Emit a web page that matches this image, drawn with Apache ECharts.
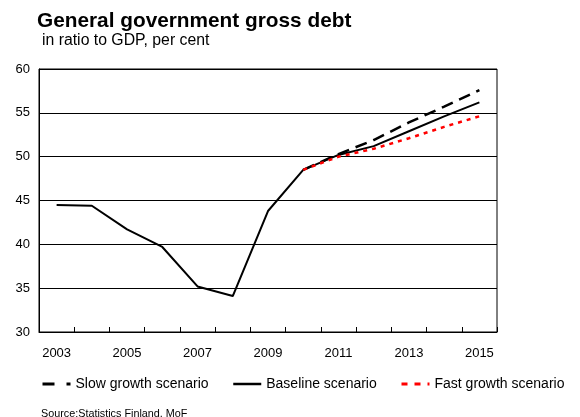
<!DOCTYPE html>
<html><head><meta charset="utf-8">
<script src="https://cdn.jsdelivr.net/npm/echarts@6/dist/echarts.min.js"></script>
<style>html,body{margin:0;padding:0;background:#fff}#c{width:580px;height:417px}</style>
</head><body><div id="c"></div>
<script>
const years = ['2003','2004','2005','2006','2007','2008','2009','2010','2011','2012','2013','2014','2015'];
const baseline = [44.5, 44.4, 41.7, 39.7, 35.2, 34.1, 43.8, 48.5, 50.2, 51.2, 52.9, 54.6, 56.2];
const slowGrowth = [null, null, null, null, null, null, null, 48.5, 50.3, 51.9, 53.9, 55.7, 57.6];
const fastGrowth = [null, null, null, null, null, null, null, 48.5, 50.0, 50.9, 52.1, 53.4, 54.6];
const yTicks = [30, 35, 40, 45, 50, 55, 60];
const seriesNames = ['Slow growth scenario', 'Baseline scenario', 'Fast growth scenario'];

const font = 'Liberation Sans, Arial, sans-serif';
const legendText = {fontFamily: font, fontSize: 14, color: '#000'};
function legendAt(left, item) {
  return {left: left, top: 377, padding: 0, itemWidth: 28, itemHeight: 14,
          itemStyle: {opacity: 0}, textStyle: legendText, data: [item]};
}
const chart = echarts.init(document.getElementById('c'));
chart.setOption({
  animation: false,
  backgroundColor: '#fff',
  title: [
    {text: 'General government gross debt', left: 32, top: 6,
     textStyle: {fontFamily: font, fontSize: 20.8, fontWeight: 'bold', color: '#000'}},
    {text: 'in ratio to GDP, per cent', left: 37, top: 28,
     textStyle: {fontFamily: font, fontSize: 15.8, fontWeight: 'normal', color: '#000'}},
    {text: 'Source:Statistics Finland, MoF', left: 36, top: 404,
     textStyle: {fontFamily: font, fontSize: 10.8, fontWeight: 'normal', color: '#000'}}
  ],
  legend: [
    legendAt(41, {name: seriesNames[0], lineStyle: {type: [12, 12], width: 3}}),
    legendAt(232, {name: seriesNames[1], lineStyle: {width: 2.5}}),
    legendAt(400, {name: seriesNames[2], lineStyle: {type: [6, 7], width: 3}})
  ],
  grid: {left: 39, right: 83, top: 69, bottom: 85, show: true, borderColor: '#000', borderWidth: 1},
  xAxis: {
    type: 'category', data: years, boundaryGap: true,
    axisLine: {lineStyle: {color: '#000', width: 1}},
    axisTick: {show: true, inside: true, length: 5, interval: 0, lineStyle: {color: '#000'}},
    axisLabel: {interval: 1, fontFamily: font, fontSize: 13, color: '#000', margin: 15}
  },
  yAxis: {
    type: 'value', min: yTicks[0], max: yTicks[yTicks.length - 1], interval: 5,
    axisLine: {show: true, lineStyle: {color: '#000'}},
    axisTick: {show: false},
    splitLine: {lineStyle: {color: '#000', width: 1}},
    axisLabel: {fontFamily: font, fontSize: 13, color: '#000', margin: 9}
  },
  series: [
    {name: seriesNames[0], type: 'line', data: slowGrowth, symbol: 'none', z: 3,
     lineStyle: {color: '#000', width: 2.5, type: [12, 7]}, itemStyle: {color: '#000'}},
    {name: seriesNames[1], type: 'line', data: baseline, symbol: 'none', z: 2,
     lineStyle: {color: '#000', width: 2}, itemStyle: {color: '#000'}},
    {name: seriesNames[2], type: 'line', data: fastGrowth, symbol: 'none', z: 4,
     lineStyle: {color: '#ff0000', width: 2.5, type: [4, 5]}, itemStyle: {color: '#ff0000'}}
  ]
});
</script></body></html>
